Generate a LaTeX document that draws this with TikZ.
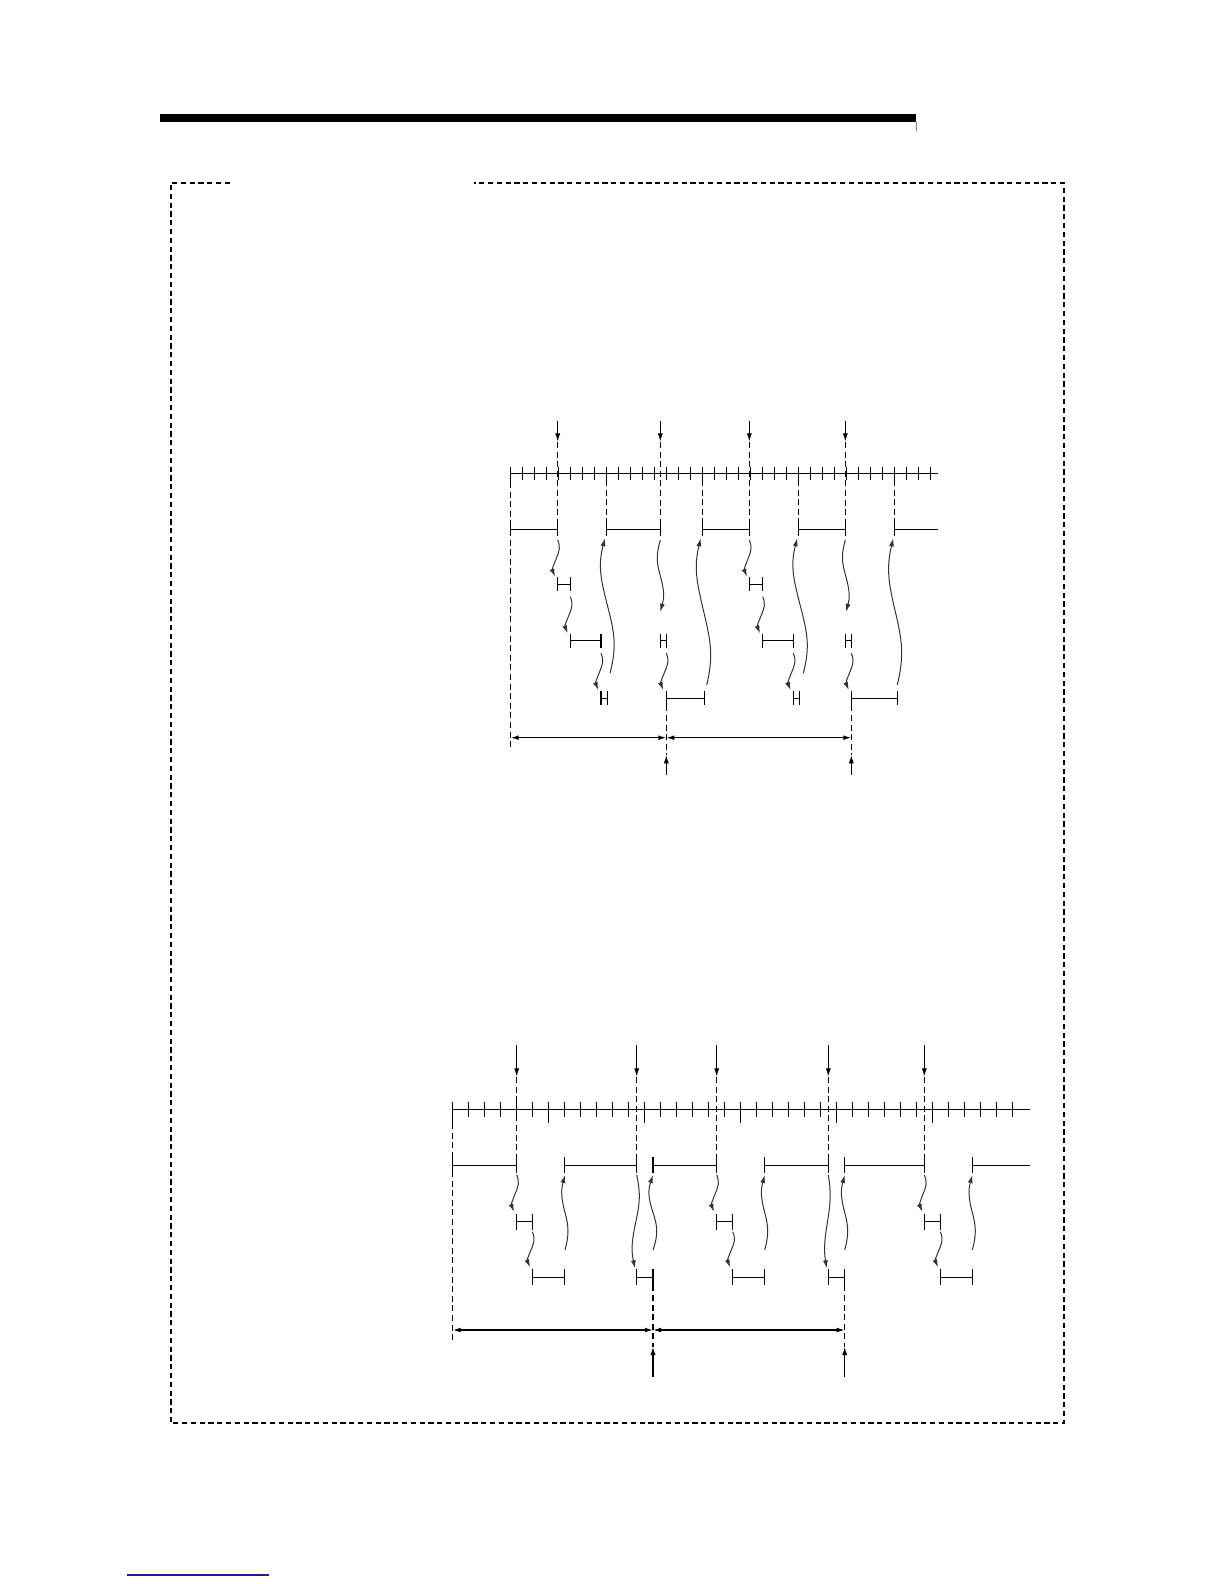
\documentclass[tikz,border=0pt]{standalone}
\usetikzlibrary{arrows.meta}
\tikzset{
 ln/.style={line width=0.6pt},
 dsh/.style={line width=0.6pt, dash pattern=on 3pt off 1.8pt},
 tip/.style={-{Latex[length=4.2pt,width=2.6pt]}},
 dbl/.style={{Latex[length=4pt,width=2.4pt]}-{Latex[length=4pt,width=2.4pt]}},
 wv/.style={line width=0.5pt, black!80, -{Latex[length=4pt,width=2.5pt]}},
 frm/.style={line width=1pt, dash pattern=on 2.6pt off 1.8pt},
}
\newcommand{\Sarr}[5]{%
 \draw[wv] (#1,#2) .. controls ({#1+(#5)},{#2+0.2*(#4-#2)}) and ({(#1+#3)/2+(#5)},{(#2+#4)/2-0.2*(#4-#2)}) .. ({(#1+#3)/2},{(#2+#4)/2}) .. controls ({(#1+#3)/2-(#5)},{(#2+#4)/2+0.2*(#4-#2)}) and ({#3-(#5)},{#4-0.2*(#4-#2)}) .. (#3,#4);}
\newcommand{\Seg}[4]{%
 \draw[ln] (#1,#3) -- (#2,#3) (#1,#3-#4) -- (#1,#3+#4) (#2,#3-#4) -- (#2,#3+#4);}
\begin{document}
\begin{tikzpicture}[x=0.5pt,y=-0.5pt]
\useasboundingbox (0,0) rectangle (1224,1584);
% header bar
\fill (160,114) rectangle (916,122);
\draw[gray,line width=0.4pt] (916,122) -- (916,131);
% frame
\draw[frm] (230,182.7) -- (170.7,182.7) -- (170.7,1423.3) -- (1063.7,1423.3) -- (1063.7,182.7) -- (474,182.7);
% footer link underline
\draw[line width=0.6pt,color={rgb,255:red,30;green,30;blue,140}] (127.3,1575) -- (269,1575);

% ================= TOP DIAGRAM =================
\draw[ln] (510.7,473.3) -- (938.3,473.3);
\foreach \k in {0,...,35} \draw[ln] ({510.7+12*\k},466.6) -- ({510.7+12*\k},480);
\draw[ln] (510.7,480) -- (510.7,482);
\foreach \x in {557.7,660.3,749.3,845.3} {
  \draw[ln,tip] (\x,420.7) -- (\x,441.7);
  \draw[dsh] (\x,442) -- (\x,522.3);
}
\draw[dsh] (510.7,482) -- (510.7,750);
\foreach \x in {606.7,702.7,798.7,894.7} \draw[dsh] (\x,480) -- (\x,522.3);
% level A
\Seg{510.7}{557.7}{529.3}{7}
\Seg{606.7}{660.3}{529.3}{7}
\Seg{702.7}{749.3}{529.3}{7}
\Seg{798.7}{845.3}{529.3}{7}
\draw[ln] (894.7,529.3) -- (938.3,529.3) (894.7,522.3) -- (894.7,536.3);
% level B
\Seg{557.7}{570.3}{584.3}{7}
\Seg{749.3}{762.7}{584.3}{7}
% level C
\Seg{570.3}{601}{640.7}{7}
\Seg{660.3}{666.3}{640.7}{7}
\Seg{762.7}{793.3}{640.7}{7}
\Seg{845.3}{851.3}{640.7}{7}
% level D
\Seg{601}{607.3}{698.3}{7}
\Seg{666.3}{704.3}{698.3}{7}
\Seg{793.3}{799.3}{698.3}{7}
\Seg{851.3}{897.3}{698.3}{7}
\draw[dsh] (666.3,705.3) -- (666.3,755);
\draw[dsh] (851.3,705.3) -- (851.3,755);
\draw[ln,dbl] (510.7,737.7) -- (666.3,737.7);
\draw[ln,dbl] (666.3,737.7) -- (851.3,737.7);
\draw[ln,tip] (666.3,775) -- (666.3,755);
\draw[ln,tip] (851.3,775) -- (851.3,755);
% wavy arrows
\Sarr{557.7}{540}{555}{576.7}{3}
\Sarr{570.3}{596.7}{567.7}{633.3}{3}
\Sarr{601}{653.3}{598.3}{690}{3}
\Sarr{666.3}{653.3}{663.3}{690}{3}
\Sarr{749.3}{540}{747}{576.7}{3}
\Sarr{762.7}{596.7}{760}{633.3}{3}
\Sarr{793.3}{653.3}{790.5}{690}{3}
\Sarr{851.3}{653.3}{848.7}{690}{3}
\Sarr{660.3}{540}{660.3}{611.7}{-4}
\Sarr{845.3}{540}{846}{611.7}{-4}
\Sarr{610}{673.3}{605}{538.3}{7}
\Sarr{706.7}{685}{700.7}{538.3}{7}
\Sarr{803.3}{673.3}{797.3}{538.3}{7}
\Sarr{897.3}{685}{893.3}{538.3}{7}

% ================= BOTTOM DIAGRAM =================
\draw[ln] (452.7,1109.3) -- (1030,1109.3);
\foreach \k in {0,...,35} \draw[ln] ({452.7+16*\k},1101.7) -- ({452.7+16*\k},1116.7);
\foreach \k in {0,6,...,30} \draw[ln] ({452.7+16*\k},1116.7) -- ({452.7+16*\k},1122.7);
\foreach \x in {516.7,636.7,716.7,828.3,924.3} {
  \draw[ln,tip] (\x,1045) -- (\x,1076.7);
  \draw[dsh] (\x,1077) -- (\x,1157.3);
}
\draw[dsh] (452.7,1123) -- (452.7,1343.3);
% level A
\Seg{452.7}{516.7}{1165.3}{8}
\Seg{564.7}{636.7}{1165.3}{8}
\Seg{653}{716.7}{1165.3}{8}
\Seg{764.7}{828.3}{1165.3}{8}
\Seg{844.7}{924.3}{1165.3}{8}
\draw[ln] (972.3,1165.3) -- (1030,1165.3) (972.3,1157.3) -- (972.3,1173.3);
% level B
\Seg{516.7}{532.3}{1221.7}{8}
\Seg{716.7}{732.7}{1221.7}{8}
\Seg{924.3}{940.3}{1221.7}{8}
% level C
\Seg{532.3}{564.7}{1277.3}{8}
\Seg{636.7}{653}{1277.3}{8}
\draw[line width=1pt] (653,1269.3) -- (653,1285.3);
\Seg{732.7}{764.7}{1277.3}{8}
\Seg{828.3}{844.7}{1277.3}{8}
\Seg{940.3}{972.3}{1277.3}{8}
\draw[dsh] (653,1285.3) -- (653,1346.7);
\draw[dsh] (844.7,1285.3) -- (844.7,1346.7);
\draw[ln,dbl] (452.7,1330) -- (653,1330);
\draw[ln,dbl] (653,1330) -- (844.7,1330);
\draw[ln,tip] (653,1376.7) -- (653,1346.7);
\draw[ln,tip] (844.7,1376.7) -- (844.7,1346.7);
% wavy arrows
\Sarr{516.7}{1175}{514}{1211.7}{3}
\Sarr{532.3}{1231.7}{530}{1267.3}{3}
\Sarr{565}{1250}{565}{1175}{4}
\Sarr{636.7}{1175}{635}{1268.3}{4}
\Sarr{653}{1250}{653}{1175}{5}
\Sarr{716.7}{1175}{714}{1211.7}{3}
\Sarr{732.7}{1231.7}{730.3}{1267.3}{3}
\Sarr{764.7}{1250}{764.7}{1175}{4}
\Sarr{828.3}{1175}{826.7}{1268.3}{3}
\Sarr{844.7}{1250}{844.7}{1175}{4}
\Sarr{924.3}{1175}{922.3}{1211.7}{3}
\Sarr{940.3}{1231.7}{938}{1267.3}{3}
\Sarr{972.3}{1250}{972.3}{1175}{4}
\end{tikzpicture}
\end{document}
